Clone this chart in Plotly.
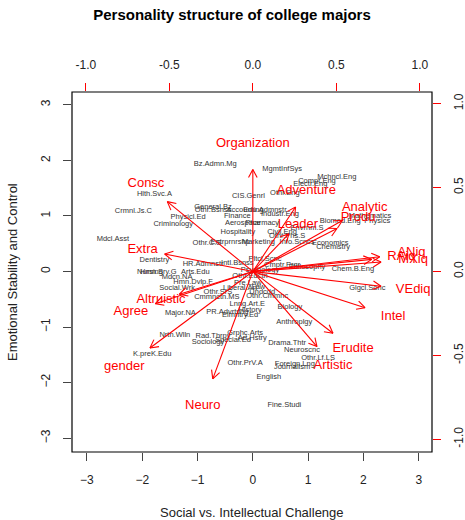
import math
import plotly.graph_objects as go

# scores of the college majors (first two components)
majors = [
    "Bz.Admn.Mg", "Hlth.Svc.A", "Crmnl.Js.C", "Physicl.Ed", "Criminology", "General.Bz",
    "Othr.Bsnss", "Finance", "CIS.Genrl", "Accounting", "Edu.Admnstr", "MgmtInfSys",
    "Mchncl.Eng", "Compt.Eng", "Electr.Eng", "Othr.Eng", "Industr.Eng", "Aerospace",
    "Pharmacy", "Biomed.Eng", "Mathematics", "Physics", "Hospitality", "Othr.C.S",
    "Entrprnrshp", "Marketing", "Info.Scncs", "Civil.Eng", "Othr.Phs.S", "Envrnm.S",
    "Economics", "Chemistry", "Pltcl.Scnc", "Cmptr.Prgr", "Philosophy", "Chem.B.Eng",
    "Glgcl.Sonc", "Mdcl.Asst", "Dentistry", "HR.Admnstr", "Intl.Bsnss", "Nursing",
    "Hmn.Srv.G", "Arts.Edu", "Mdcn.NA", "Hmn.Dvlp.F", "Social.Wrk", "Cmmnctn.MS",
    "Othr.SrS", "Major.NA", "PR.Advrtsng", "Elmntry.Ed", "Lnng.Art.E", "History",
    "Nrtn.Wlln", "K.preK.Edu", "Rad.Thrpy", "Sociology", "Grphc.Arts", "Special.Ed",
    "Art.Hstry", "Othr.Cmmnc", "Biology", "Anthroplgy", "Drama.Thtr", "Neuroscnc",
    "Othr.Lf.LS", "Foreign.Lng", "Journalism", "Othr.PrV.A", "English", "Fine.Studi",
    "Psychology", "Pre.Law", "Law", "Undcdd", "Liberal.Art", "Othr.Edctn",
]
score1 = [
    -0.68, -1.78, -2.16, -1.17, -1.44, -0.72,
    -0.72, -0.28, -0.08, -0.14, 0.22, 0.53,
    1.52, 1.16, 1.04, 0.58, 0.49, -0.18,
    0.17, 1.58, 2.12, 2.25, -0.27, -0.83,
    -0.41, 0.10, 0.80, 0.53, 0.62, 0.98,
    1.40, 1.45, 0.22, 0.53, 0.98, 1.81,
    2.07, -2.53, -1.78, -0.90, -0.28, -1.86,
    -1.71, -1.04, -1.37, -1.08, -1.37, -0.65,
    -0.63, -1.31, -0.46, -0.23, -0.10, -0.05,
    -1.41, -1.82, -0.72, -0.81, -0.14, -0.36,
    -0.01, 0.26, 0.67, 0.75, 0.62, 0.89,
    1.18, 0.76, 0.71, -0.14, 0.29, 0.57,
    0.13, -0.09, 0.10, 0.17, -0.23, -0.05,
]
score2 = [
    1.94, 1.40, 1.09, 0.98, 0.86, 1.16,
    1.11, 1.00, 1.36, 1.11, 1.11, 1.85,
    1.70, 1.63, 1.58, 1.41, 1.04, 0.87,
    0.87, 0.91, 1.00, 0.91, 0.71, 0.51,
    0.53, 0.53, 0.53, 0.71, 0.64, 0.78,
    0.51, 0.44, 0.23, 0.12, 0.08, 0.05,
    -0.30, 0.59, 0.21, 0.14, 0.15, -0.01,
    -0.01, -0.01, -0.10, -0.19, -0.30, -0.46,
    -0.37, -0.75, -0.73, -0.78, -0.59, -0.69,
    -1.14, -1.48, -1.16, -1.27, -1.11, -1.23,
    -1.20, -0.44, -0.64, -0.91, -1.29, -1.41,
    -1.56, -1.67, -1.72, -1.65, -1.90, -2.41,
    0.03, -0.21, -0.28, -0.37, -0.30, -0.08,
]

# loadings of the personality / ability variables
traits = [
    "Organization", "Consc", "Adventure", "Analytic", "Leader", "Produ", "Extra",
    "RAiq", "ANiq", "MXiq", "VEdiq", "Intel", "Erudite", "Artistic",
    "Altruistic", "Agree", "gender", "Neuro",
]
load1 = [0.00, -0.64, 0.32, 0.67, 0.27, 0.63, -0.66,
         0.89, 0.95, 0.96, 0.96, 0.84, 0.60, 0.48,
         -0.55, -0.73, -0.77, -0.30]
load2 = [0.76, 0.52, 0.48, 0.38, 0.28, 0.32, 0.13,
         0.09, 0.11, 0.07, -0.11, -0.27, -0.46, -0.56,
         -0.17, -0.24, -0.57, -0.80]

score_ticks = [-3, -2, -1, 0, 1, 2, 3]
load_ticks = [-1.0, -0.5, 0.0, 0.5, 1.0]
load_ticktext = ["-1.0", "-0.5", "0.0", "0.5", "1.0"]

FONT = "Liberation Sans, Arial, sans-serif"
xr = [-3.27, 3.24]
yr = [-3.25, 3.23]
k = 3.02  # score units per loading unit

# arrows go to 0.8 of each loading (psych biplot style), open heads
head_len, head_ang = 0.055, math.radians(28)
ax_x, ax_y = [], []
for a, b in zip(load1, load2):
    tx, ty = 0.8 * a, 0.8 * b
    th = math.atan2(ty, tx)
    ax_x += [0, tx, None]
    ax_y += [0, ty, None]
    for s in (1, -1):
        ax_x += [tx, tx - head_len * math.cos(th + s * head_ang), None]
        ax_y += [ty, ty - head_len * math.sin(th + s * head_ang), None]

fig = go.Figure()

fig.add_trace(go.Scatter(
    x=score1, y=score2, mode="text", text=majors,
    textfont=dict(size=7.5, color="#333333", family=FONT),
    hoverinfo="text", showlegend=False,
))

fig.add_trace(go.Scatter(
    x=ax_x, y=ax_y, mode="lines", line=dict(color="red", width=1.1),
    xaxis="x2", yaxis="y2", hoverinfo="skip", showlegend=False,
))

fig.add_trace(go.Scatter(
    x=load1, y=load2, mode="text", text=traits,
    textfont=dict(size=13, color="red", family=FONT),
    xaxis="x2", yaxis="y2", hoverinfo="text", showlegend=False,
))

axis_common = dict(
    showgrid=False, zeroline=False, ticks="outside", ticklen=8, automargin=False,
    tickfont=dict(size=12, color="#222", family=FONT),
)

fig.update_layout(
    width=465, height=520,
    margin=dict(l=72, r=33, t=92, b=68),
    plot_bgcolor="white", paper_bgcolor="white",
    font=dict(family=FONT),
    title=dict(
        text="<b>Personality structure of college majors</b>",
        x=232 / 465, y=1 - 15 / 520, xref="container", yref="container",
        xanchor="center", yanchor="middle",
        font=dict(size=15, color="black", family=FONT),
    ),
    xaxis=dict(range=xr, tickvals=score_ticks, tickcolor="#444",
               ticklabelstandoff=9, **axis_common),
    yaxis=dict(range=yr, tickvals=score_ticks, tickcolor="#444",
               tickangle=-90, ticklabelstandoff=8, **axis_common),
    xaxis2=dict(range=[xr[0] / k, xr[1] / k], overlaying="x", side="top",
                tickvals=load_ticks, ticktext=load_ticktext,
                tickcolor="red", ticklabelstandoff=9, **axis_common),
    yaxis2=dict(range=[yr[0] / k, yr[1] / k], overlaying="y", side="right",
                tickvals=load_ticks, ticktext=load_ticktext,
                tickcolor="red", tickangle=-90, ticklabelstandoff=8, **axis_common),
    shapes=[dict(type="rect", xref="paper", yref="paper", x0=0, y0=0, x1=1, y1=1,
                 line=dict(color="black", width=1.2))],
    annotations=[
        dict(text="Social vs. Intellectual Challenge", xref="paper", yref="paper",
             x=0.5, y=-60 / 360, showarrow=False, xanchor="center", yanchor="middle",
             font=dict(size=13, color="#222", family=FONT)),
        dict(text="Emotional Stability and Control", xref="paper", yref="paper",
             x=-60 / 360, y=0.5, showarrow=False, textangle=-90,
             xanchor="center", yanchor="middle",
             font=dict(size=13, color="#222", family=FONT)),
    ],
)

fig.write_html("out.html", config={"displayModeBar": False},
               post_script="document.body.style.margin='0';")
